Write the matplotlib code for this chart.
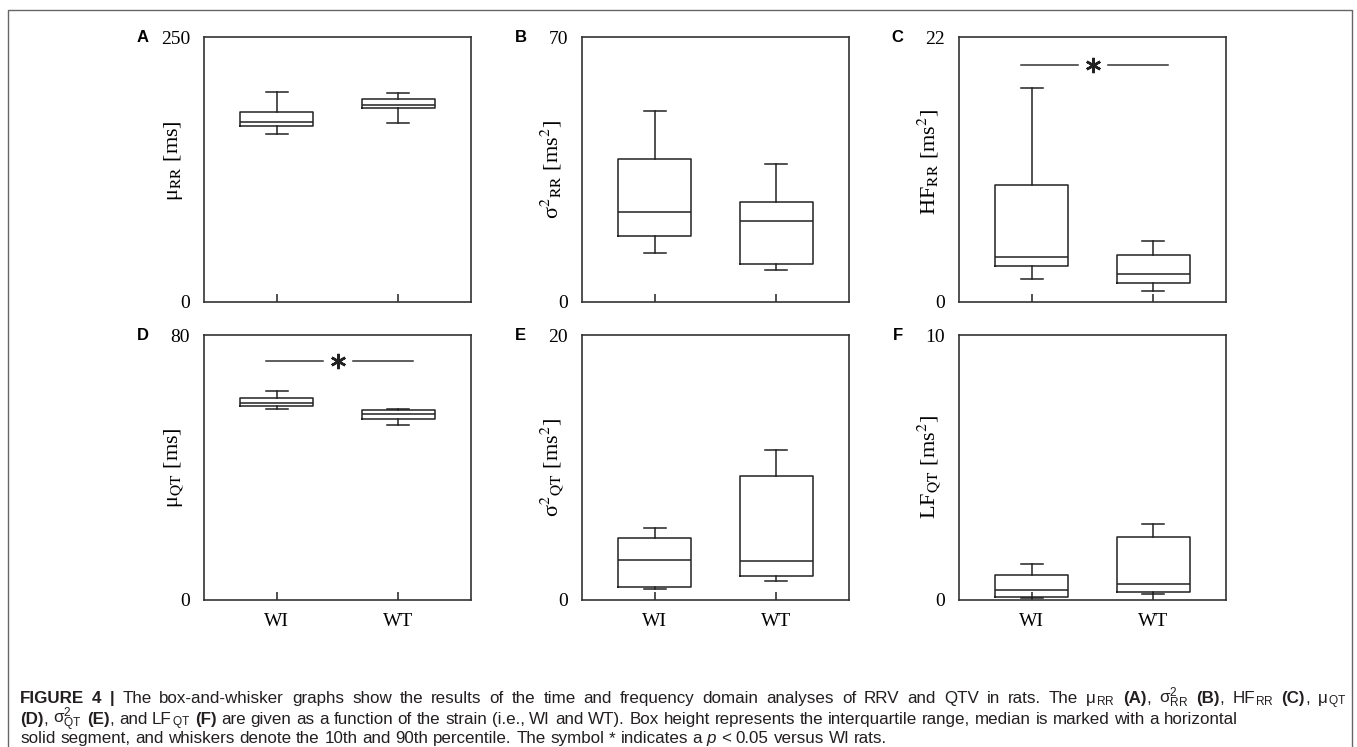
import numpy as np
import matplotlib
matplotlib.use('Agg')
import matplotlib.pyplot as plt
from matplotlib.font_manager import FontProperties
from matplotlib.transforms import IdentityTransform
from matplotlib.lines import Line2D

# ---- data : whislo, q1, median, q3, whishi ----
groups = ['WI', 'WT']
panel_letters = ['A', 'B', 'C', 'D', 'E', 'F']
y_max = [250, 70, 22, 80, 20, 10]

mu_rr_wi = [158.2, 165.7, 170.1, 179.2, 198.4]
mu_rr_wt = [168.6, 183.3, 185.8, 191.8, 197.2]
var_rr_wi = [12.9, 17.4, 23.8, 37.9, 50.5]
var_rr_wt = [8.5, 10.0, 21.4, 26.3, 36.4]
hf_rr_wi = [1.9, 3.0, 3.7, 9.7, 17.8]
hf_rr_wt = [0.9, 1.6, 2.3, 3.9, 5.1]
mu_qt_wi = [57.7, 58.6, 59.4, 61.1, 63.2]
mu_qt_wt = [52.7, 54.7, 56.3, 57.3, 57.8]
var_qt_wi = [0.86, 0.96, 2.99, 4.70, 5.46]
var_qt_wt = [1.46, 1.79, 2.97, 9.36, 11.32]
lf_qt_wi = [0.09, 0.11, 0.38, 0.94, 1.37]
lf_qt_wt = [0.21, 0.31, 0.60, 2.38, 2.87]

# level of the "*" bar, None = no significance
sig_level = [None, None, 19.7, 72.3, None, None]

ylabels = ['μ$_{\\rm RR}$ [ms]',
           'σ$^{2}{}_{\\rm RR}$ [ms$^{2}$]',
           'HF$_{\\rm RR}$ [ms$^{2}$]',
           'μ$_{\\rm QT}$ [ms]',
           'σ$^{2}{}_{\\rm QT}$ [ms$^{2}$]',
           'LF$_{\\rm QT}$ [ms$^{2}$]']

panel_data = [(mu_rr_wi, mu_rr_wt), (var_rr_wi, var_rr_wt), (hf_rr_wi, hf_rr_wt),
              (mu_qt_wi, mu_qt_wt), (var_qt_wi, var_qt_wt), (lf_qt_wi, lf_qt_wt)]

caption = [
    [('FIGURE 4 |', 'bold'),
     (' The box-and-whisker graphs show the results of the time and frequency domain analyses of RRV and QTV in rats. The μ', 'normal'),
     (r'$_{\mathrm{RR}}$', 'math'), (' ', 'normal'), ('(A)', 'bold'), (', ', 'normal'),
     (r'$\mathrm{\sigma}^{2}_{\mathrm{RR}}$', 'math'), (' ', 'normal'), ('(B)', 'bold'),
     (', HF', 'normal'), (r'$_{\mathrm{RR}}$', 'math'), (' ', 'normal'), ('(C)', 'bold'), (', μ', 'normal'),
     (r'$_{\mathrm{QT}}$', 'math')],
    [('(D)', 'bold'), (', ', 'normal'), (r'$\mathrm{\sigma}^{2}_{\mathrm{QT}}$', 'math'), (' ', 'normal'),
     ('(E)', 'bold'), (', and LF', 'normal'), (r'$_{\mathrm{QT}}$', 'math'), (' ', 'normal'), ('(F)', 'bold'),
     (' are given as a function of the strain (i.e., WI and WT). Box height represents the interquartile range, median is marked with a horizontal', 'normal')],
    [('solid segment, and whiskers denote the 10th and 90th percentile. The symbol * indicates a ', 'normal'),
     ('p', 'italic'), (' < 0.05 versus WI rats.', 'normal')],
]
# where each caption line ends in the reference (pixels)
caption_right = [1346, 1155, 888]

# caption math uses the sans font itself
plt.rcParams['mathtext.rm'] = 'Liberation Sans'
plt.rcParams['mathtext.sf'] = 'Liberation Sans'
plt.rcParams['mathtext.it'] = 'Liberation Sans:italic'
plt.rcParams['mathtext.bf'] = 'Liberation Sans:bold'

INK = '#222222'
W, H = 1357, 747

fig = plt.figure(figsize=(W / 100, H / 100), dpi=100)

col_left = [204, 582, 959]
row_top = [37, 335]
ax_w, ax_h = 267, 265
label_y = [0.535, 0.5, 0.53, 0.5, 0.5, 0.5]

serif = 'Liberation Serif'
tick_font = FontProperties(family=serif, size=14)
label_font = FontProperties(family=serif, size=16, math_fontfamily='stix')

for i in range(6):
    r, c = divmod(i, 3)
    ax = fig.add_axes([col_left[c] / W, 1 - (row_top[r] + ax_h) / H, ax_w / W, ax_h / H])
    wi, wt = panel_data[i]
    stats = []
    for name, v in zip(groups, (wi, wt)):
        stats.append(dict(label=name, whislo=v[0], q1=v[1], med=v[2], q3=v[3], whishi=v[4], fliers=[]))
    line = dict(color=INK, linewidth=1.1)
    ax.bxp(stats, positions=[1, 2], widths=0.6, capwidths=0.18, showfliers=False,
           boxprops=line, medianprops=line, whiskerprops=line, capprops=line)

    if sig_level[i] is not None:
        lvl = sig_level[i]
        ax.plot([0.91, 1.38], [lvl, lvl], color='#333333', lw=1.1)
        ax.plot([1.63, 2.12], [lvl, lvl], color='#333333', lw=1.1)
        ax.plot(1.5, lvl, marker=(6, 2, 0), ms=11, mew=1.8, color=INK)

    ax.set_xlim(0.4, 2.6)
    ax.set_ylim(0, y_max[i])
    ax.set_yticks([0, y_max[i]])
    ax.set_yticklabels(['0', str(y_max[i])], fontproperties=tick_font)
    ax.set_xticks([1, 2])
    ax.set_xticklabels(groups, fontproperties=tick_font)
    ax.tick_params(axis='y', length=0, pad=10)
    ax.tick_params(axis='x', direction='in', length=6, width=1.1, color=INK, pad=9,
                   labelbottom=(r == 1))
    for sp in ax.spines.values():
        sp.set_color('#333333')
        sp.set_linewidth(1.2)

    ax.set_ylabel(ylabels[i], fontproperties=label_font, va='center')
    ax.yaxis.set_label_coords(-0.115, label_y[i])
    ax.text(-0.23, 1.0, panel_letters[i], transform=ax.transAxes, ha='center', va='center',
            family='Liberation Sans', weight='bold', size=12)

# outer frame of the figure
fx0, fx1, fy1 = 8 / W, 1352 / W, 1 - 10 / H
fig.add_artist(Line2D([fx0, fx0, fx1, fx1], [0, fy1, fy1, 0], transform=fig.transFigure,
                      color='#666666', lw=1.0))

# caption, built word by word (bold / italic / math pieces)
renderer = fig.canvas.get_renderer()


def make_prop(kind, size):
    if kind == 'bold':
        return FontProperties(family='Liberation Sans', weight='bold', size=size)
    if kind == 'italic':
        return FontProperties(family='Liberation Sans', style='italic', size=size)
    return FontProperties(family='Liberation Sans', size=size, math_fontfamily='custom')


def layout(runs, size, extra=0.0):
    base = make_prop('normal', size)
    sp_w = (renderer.get_text_width_height_descent('a a', base, ismath=False)[0]
            - renderer.get_text_width_height_descent('aa', base, ismath=False)[0])
    pieces, x, n_sp = [], 0.0, 0
    for s, kind in runs:
        prop = make_prop(kind, size)
        ismath = kind == 'math'
        words = [s] if ismath else s.split(' ')
        for j, wd in enumerate(words):
            if j > 0:
                x += sp_w + extra
                n_sp += 1
            if wd:
                pieces.append((x, wd, prop))
                x += renderer.get_text_width_height_descent(wd, prop, ismath=ismath)[0]
    return pieces, x, n_sp


# font size: best fit of the natural line widths to the reference ones
cap_size = 10.0
for _ in range(3):
    widths = np.array([layout(runs, cap_size)[1] for runs in caption])
    target = np.array(caption_right) - 20
    cap_size *= np.sum(target * widths) / np.sum(widths * widths)

baselines = [703, 724, 743]
for k, (runs, yb) in enumerate(zip(caption, baselines)):
    _, w_nat, n_sp = layout(runs, cap_size)
    extra = 0.0
    if k == 0 and w_nat < caption_right[0] - 20:
        # the first line runs to the right edge in the reference
        extra = (caption_right[0] - 20 - w_nat) / n_sp
    pieces, _, _ = layout(runs, cap_size, extra)
    for x, s, prop in pieces:
        fig.text(20 + x, H - yb, s, fontproperties=prop, transform=IdentityTransform(),
                 va='baseline', ha='left', color='#231f20')

fig.savefig('out.png', dpi=100)
